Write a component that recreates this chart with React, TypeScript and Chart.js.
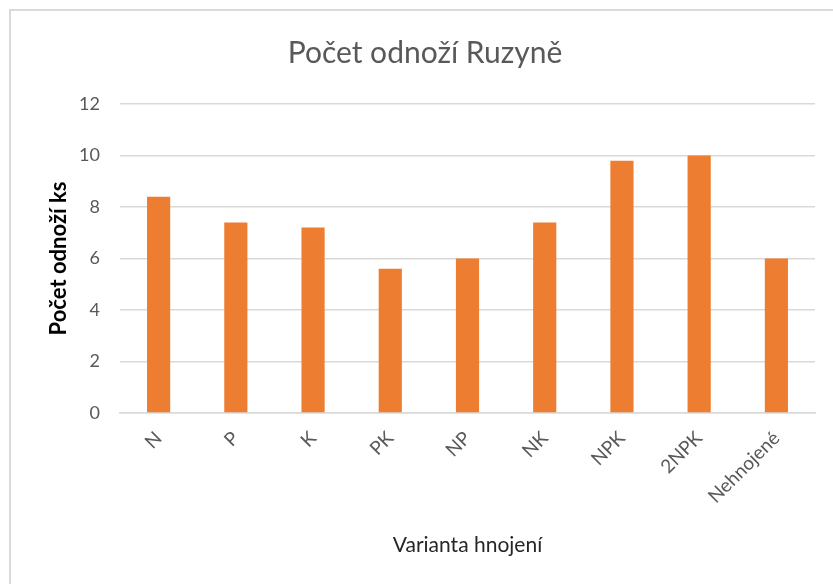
import React, { useEffect, useRef } from "react";
import { Chart, registerables } from "chart.js";

Chart.register(...registerables);

const categories = ["N", "P", "K", "PK", "NP", "NK", "NPK", "2NPK", "Nehnojené"];
const values = [8.4, 7.4, 7.2, 5.6, 6.0, 7.4, 9.8, 10.0, 6.0];
const yTicks = [0, 2, 4, 6, 8, 10, 12];

const chartTitle = "Počet odnoží Ruzyně";
const yTitle = "Počet odnoží ks";
const xTitle = "Varianta hnojení";

const FONT = "Lato, 'Open Sans', sans-serif";

// Centre the chart title over the whole chart frame rather than the padded box
const titleFramePlugin = {
  id: "titleFrame",
  afterLayout(chart: any) {
    const tb = chart.titleBlock;
    if (tb) {
      tb.left = 17;
      tb.right = 833;
      tb.width = 816;
    }
  },
};

export default function App() {
  const ref = useRef<HTMLCanvasElement | null>(null);

  useEffect(() => {
    if (!ref.current) return;
    const chart = new Chart(ref.current, {
      type: "bar",
      data: {
        labels: categories,
        datasets: [
          {
            data: values,
            backgroundColor: "#ED7D31",
            borderWidth: 0,
            categoryPercentage: 1,
            barPercentage: 0.3,
          },
        ],
      },
      plugins: [titleFramePlugin],
      options: {
        animation: false,
        responsive: false,
        maintainAspectRatio: false,
        layout: { padding: { left: 0, right: 18, top: 0, bottom: 0 } },
        plugins: {
          legend: { display: false },
          tooltip: { enabled: false },
          title: {
            display: true,
            text: chartTitle,
            color: "#595959",
            font: { family: FONT, size: 30, weight: "normal" },
            padding: { top: 35, bottom: 33 },
          },
        },
        scales: {
          x: {
            grid: { display: false, drawTicks: false },
            border: { display: true, color: "#d9d9d9", width: 1.5 },
            ticks: {
              color: "#595959",
              font: { family: FONT, size: 19 },
              minRotation: 45,
              maxRotation: 45,
              padding: 14,
            },
            title: {
              display: true,
              text: xTitle,
              color: "#262626",
              font: { family: FONT, size: 21 },
              padding: { top: 0, bottom: 26 },
            },
            afterFit: (scale: any) => {
              scale.height = 171;
            },
          },
          y: {
            min: 0,
            max: 12,
            afterBuildTicks: (scale: any) => {
              scale.ticks = yTicks.map((v) => ({ value: v }));
            },
            grid: { color: "#d9d9d9", lineWidth: 1.5, drawTicks: false },
            border: { display: false },
            ticks: {
              color: "#595959",
              font: { family: FONT, size: 18 },
              padding: 20,
            },
            title: {
              display: true,
              text: yTitle,
              color: "#000000",
              font: { family: FONT, size: 22, weight: "bold" },
              padding: { top: 46, bottom: 0 },
            },
            afterFit: (scale: any) => {
              scale.width = 120;
            },
          },
        },
      },
    });
    return () => chart.destroy();
  }, []);

  return (
    <div
      style={{
        position: "fixed",
        left: 0,
        top: 0,
        width: 833,
        height: 584,
        background: "#ffffff",
        overflow: "hidden",
      }}
    >
      <div
        style={{
          position: "absolute",
          left: 9,
          top: 9,
          width: 840,
          height: 600,
          borderLeft: "2px solid #d9d9d9",
          borderTop: "2px solid #d9d9d9",
          boxSizing: "border-box",
        }}
      />
      <canvas
        ref={ref}
        width={833}
        height={584}
        style={{ position: "absolute", left: 0, top: 0, width: 833, height: 584 }}
      />
    </div>
  );
}
